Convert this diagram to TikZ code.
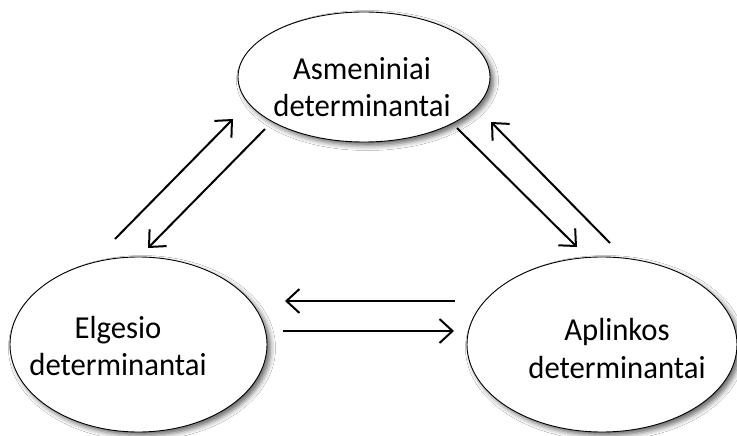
\documentclass[tikz,border=0pt]{standalone}
\usepackage{fontspec}
\setmainfont{Carlito}[FakeStretch=0.96]
\usetikzlibrary{shapes.geometric,arrows.meta,shadows.blur}
\begin{document}
\begin{tikzpicture}[x=1pt,y=-1pt,
  ell/.style={ellipse, draw=black, line width=0.9pt, fill=white, inner sep=0pt,
    blur shadow={shadow xshift=3.5pt, shadow yshift=-3.5pt, shadow blur radius=5pt, shadow opacity=60}},
  lbl/.style={anchor=base, inner sep=0pt, font=\fontsize{32}{37}\selectfont},
  arr/.style={line width=2pt, -{Straight Barb[length=13pt,width=24pt,line width=2pt]}}]
\useasboundingbox (0,0) rectangle (737,436);
\fill[white] (0,0) rectangle (737,436);
% ellipses
\node[ell, minimum width=252pt, minimum height=130pt] (top) at (364,77) {};
\node[ell, minimum width=257pt, minimum height=175pt] (left) at (138.5,344.5) {};
\node[ell, minimum width=270pt, minimum height=175pt] (right) at (602,344.5) {};
% labels
\node[lbl] (t1) at (362,80) {Asmeniniai};
\node[lbl] (t2) at (362,117) {determinantai};
\node[lbl] (l1) at (118,338) {Elgesio};
\node[lbl] (l2) at (118,375) {determinantai};
\node[lbl] (r1) at (617,340) {Aplinkos};
\node[lbl] (r2) at (617,378) {determinantai};
% arrow end points
\coordinate (a1s) at (115,239); \coordinate (a1e) at (233,119);
\coordinate (a2s) at (265,129); \coordinate (a2e) at (148,248);
\coordinate (a3s) at (457,128); \coordinate (a3e) at (577,247);
\coordinate (a4s) at (610,243); \coordinate (a4e) at (491,122);
\coordinate (a5s) at (455,301); \coordinate (a5e) at (285,301);
\coordinate (a6s) at (283,331); \coordinate (a6e) at (454,331);
\draw[arr] (a1s) -- (a1e);
\draw[arr] (a2s) -- (a2e);
\draw[arr] (a3s) -- (a3e);
\draw[arr] (a4s) -- (a4e);
\draw[arr] (a5s) -- (a5e);
\draw[arr] (a6s) -- (a6e);
\end{tikzpicture}
\end{document}
